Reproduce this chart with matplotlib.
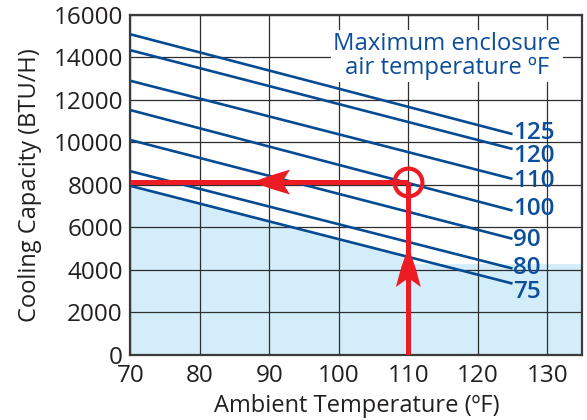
import matplotlib
matplotlib.use("Agg")
import matplotlib.pyplot as plt
import matplotlib.transforms as mtransforms
from matplotlib.patches import Polygon

plt.rcParams['font.family'] = ['Open Sans', 'DejaVu Sans']

# ---- data ----
enclosure_temps = [125, 120, 110, 100, 90, 80, 75]
line_x = [70, 125]
cap_at_70 = [15090, 14340, 12900, 11520, 10110, 8640, 7950]
cap_at_125 = [10390, 9690, 8280, 6790, 5460, 4060, 3350]
label_offsets = [40, -315, -110, 50, -80, 0, -395]

fill_x = [70, 110, 110, 135]
fill_y = [7950, 4640, 4290, 4290]

reading_x = 110
reading_y = 8130
arrow_left_tip_x = 87.5
arrow_up_tip_y = 5070

x_ticks = [70, 80, 90, 100, 110, 120, 130]
y_ticks = [0, 2000, 4000, 6000, 8000, 10000, 12000, 14000, 16000]

BLUE = '#064B92'
TEXT_BLUE = '#0B4E9C'
RED = '#ED1C24'
FILL = '#D4EDFA'
GRID = '#2e2e2e'
TXT = '#231F20'

fig = plt.figure(figsize=(5.87, 4.2), dpi=100)
ax = fig.add_axes([0.2223, 0.1555, 0.7692, 0.8088])
ax.set_xlim(70, 135)
ax.set_ylim(0, 16000)

ax.fill_between(fill_x, fill_y, 0, color=FILL, lw=0, zorder=0.3)

ax.set_axisbelow(True)
ax.set_xticks(x_ticks)
ax.set_yticks(y_ticks)
ax.grid(True, color=GRID, lw=0.9)
ax.tick_params(length=0, labelsize=17.5, colors=TXT)
ax.tick_params(axis='y', pad=5.5)
ax.tick_params(axis='x', pad=7)
for s in ax.spines.values():
    s.set_color('#3a3a3a')
    s.set_linewidth(1.6)

for t, a, b, off in zip(enclosure_temps, cap_at_70, cap_at_125, label_offsets):
    ax.plot(line_x, [a, b], color=BLUE, lw=1.9, solid_capstyle='butt', zorder=3)
    ax.text(line_x[1] + 0.1, b + off, str(t), color=TEXT_BLUE, fontsize=17.5,
            fontweight='semibold', ha='left', va='center', zorder=4)

ax.text(115.6, 14070, "Maximum enclosure\nair temperature ºF", color=TEXT_BLUE,
        fontsize=17.2, ha='center', va='center', linespacing=1.02, zorder=4,
        bbox=dict(facecolor='white', edgecolor='none', pad=1.5))

# red reading path
ax.plot([line_x[0], reading_x], [reading_y, reading_y], color=RED, lw=3.6,
        solid_capstyle='butt', zorder=5)
ax.plot([reading_x, reading_x], [0, reading_y], color=RED, lw=3.6,
        solid_capstyle='butt', zorder=5)
ax.plot([reading_x], [reading_y], marker='o', ms=20, mfc='none', mec=RED,
        mew=3.0, zorder=6, clip_on=False)

def arrowhead(x, y, verts_px):
    trans = fig.dpi_scale_trans + mtransforms.ScaledTranslation(x, y, ax.transData)
    verts = [(vx / fig.dpi, vy / fig.dpi) for vx, vy in verts_px]
    ax.add_patch(Polygon(verts, closed=True, facecolor=RED, edgecolor='none',
                         transform=trans, zorder=6))

left_shape = [(0, 0), (20, 7), (38, 12.5), (30, 0), (38, -12.5), (20, -7)]
arrowhead(arrow_left_tip_x, reading_y, left_shape)
up_shape = [(0, 0), (7, -20), (12.5, -40), (0, -31), (-12.5, -40), (-7, -20)]
arrowhead(reading_x, arrow_up_tip_y, up_shape)

ax.set_xlabel("Ambient Temperature (ºF)", fontsize=17, color=TXT, labelpad=4)
ax.set_ylabel("Cooling Capacity (BTU/H)", fontsize=17, color=TXT, labelpad=8)

fig.savefig("out.png", dpi=100)
